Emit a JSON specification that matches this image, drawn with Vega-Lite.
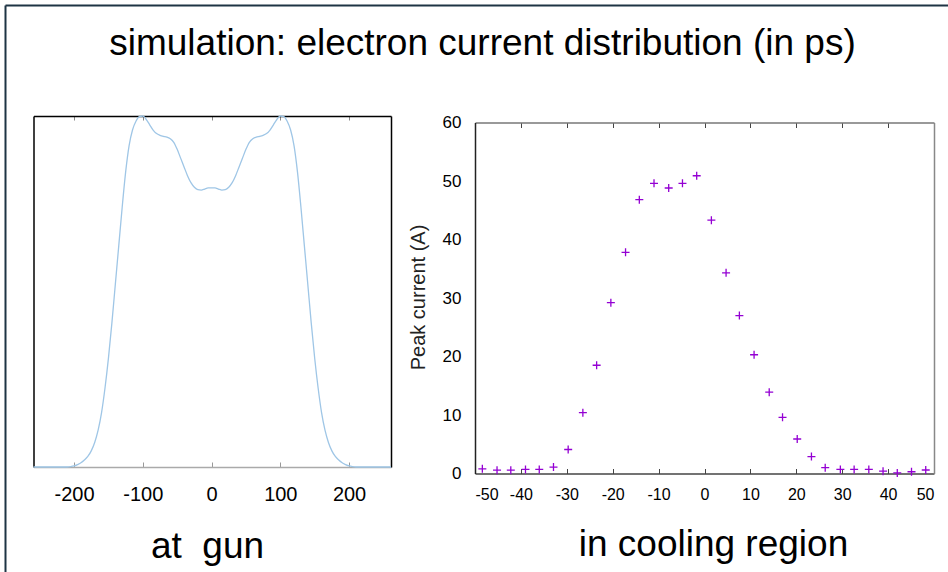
{
  "$schema": "https://vega.github.io/schema/vega-lite/v6.json",
  "width": 943,
  "height": 567,
  "autosize": {"type": "none"},
  "padding": {"left": 5, "top": 5, "right": 0, "bottom": 0},
  "background": "white",
  "title": {
    "text": "simulation: electron current distribution (in ps)",
    "font": "Liberation Sans",
    "fontSize": 37,
    "fontWeight": "normal",
    "color": "#000000",
    "anchor": "middle",
    "frame": "group",
    "baseline": "alphabetic",
    "offset": -50,
    "dx": 6,
    "dy": 37
  },
  "config": {
    "font": "Liberation Sans",
    "view": {"stroke": null},
    "axis": {"grid": false, "labelFont": "Liberation Sans", "titleFont": "Liberation Sans", "titleFontWeight": "normal", "labelColor": "#000000", "titleColor": "#000000"}
  },
  "datasets": {
    "gun": [
      {"t": -259, "I": 0}, {"t": -240, "I": 0}, {"t": -220, "I": 0}, {"t": -210, "I": 0},
      {"t": -205, "I": 0.001}, {"t": -200, "I": 0.003}, {"t": -195, "I": 0.007}, {"t": -190, "I": 0.012},
      {"t": -185, "I": 0.02}, {"t": -180, "I": 0.03}, {"t": -175, "I": 0.046}, {"t": -170, "I": 0.07},
      {"t": -165, "I": 0.105}, {"t": -160, "I": 0.155}, {"t": -155, "I": 0.225}, {"t": -150, "I": 0.31},
      {"t": -145, "I": 0.41}, {"t": -140, "I": 0.52}, {"t": -135, "I": 0.63}, {"t": -130, "I": 0.74},
      {"t": -125, "I": 0.84}, {"t": -120, "I": 0.915}, {"t": -115, "I": 0.96}, {"t": -110, "I": 0.985},
      {"t": -105, "I": 0.998}, {"t": -100, "I": 1.0}, {"t": -95, "I": 0.99}, {"t": -90, "I": 0.975},
      {"t": -85, "I": 0.96}, {"t": -80, "I": 0.95}, {"t": -75, "I": 0.945}, {"t": -70, "I": 0.942},
      {"t": -65, "I": 0.94}, {"t": -60, "I": 0.935}, {"t": -55, "I": 0.925}, {"t": -50, "I": 0.905},
      {"t": -45, "I": 0.88}, {"t": -40, "I": 0.855}, {"t": -35, "I": 0.83}, {"t": -30, "I": 0.81},
      {"t": -25, "I": 0.797}, {"t": -20, "I": 0.79}, {"t": -15, "I": 0.789}, {"t": -10, "I": 0.792},
      {"t": -5, "I": 0.795}, {"t": 0, "I": 0.795},
      {"t": 5, "I": 0.795}, {"t": 10, "I": 0.792}, {"t": 15, "I": 0.789}, {"t": 20, "I": 0.79},
      {"t": 25, "I": 0.797}, {"t": 30, "I": 0.81}, {"t": 35, "I": 0.83}, {"t": 40, "I": 0.855},
      {"t": 45, "I": 0.88}, {"t": 50, "I": 0.905}, {"t": 55, "I": 0.925}, {"t": 60, "I": 0.935},
      {"t": 65, "I": 0.94}, {"t": 70, "I": 0.942}, {"t": 75, "I": 0.945}, {"t": 80, "I": 0.95},
      {"t": 85, "I": 0.96}, {"t": 90, "I": 0.975}, {"t": 95, "I": 0.99}, {"t": 100, "I": 1.0},
      {"t": 105, "I": 0.998}, {"t": 110, "I": 0.985}, {"t": 115, "I": 0.96}, {"t": 120, "I": 0.915},
      {"t": 125, "I": 0.84}, {"t": 130, "I": 0.74}, {"t": 135, "I": 0.63}, {"t": 140, "I": 0.52},
      {"t": 145, "I": 0.41}, {"t": 150, "I": 0.31}, {"t": 155, "I": 0.225}, {"t": 160, "I": 0.155},
      {"t": 165, "I": 0.105}, {"t": 170, "I": 0.07}, {"t": 175, "I": 0.046}, {"t": 180, "I": 0.03},
      {"t": 185, "I": 0.02}, {"t": 190, "I": 0.012}, {"t": 195, "I": 0.007}, {"t": 200, "I": 0.003},
      {"t": 205, "I": 0.001}, {"t": 210, "I": 0}, {"t": 220, "I": 0}, {"t": 240, "I": 0}, {"t": 261, "I": 0}
    ],
    "cool": [
      {"t": -48.4, "I": 0.8}, {"t": -45.2, "I": 0.57}, {"t": -42.2, "I": 0.57}, {"t": -39.0, "I": 0.7},
      {"t": -36.0, "I": 0.7}, {"t": -32.9, "I": 1.1}, {"t": -29.7, "I": 4.1}, {"t": -26.5, "I": 10.4},
      {"t": -23.5, "I": 18.5}, {"t": -20.4, "I": 29.2}, {"t": -17.2, "I": 37.8}, {"t": -14.2, "I": 46.8},
      {"t": -11.0, "I": 49.6}, {"t": -7.8, "I": 48.8}, {"t": -4.8, "I": 49.6}, {"t": -1.7, "I": 50.9},
      {"t": 1.5, "I": 43.3}, {"t": 4.7, "I": 34.3}, {"t": 7.6, "I": 27.0}, {"t": 10.8, "I": 20.3},
      {"t": 14.1, "I": 13.9}, {"t": 17.0, "I": 9.6}, {"t": 20.2, "I": 5.9}, {"t": 23.3, "I": 2.9},
      {"t": 26.3, "I": 1.0}, {"t": 29.6, "I": 0.7}, {"t": 32.6, "I": 0.7}, {"t": 35.8, "I": 0.7},
      {"t": 38.9, "I": 0.4}, {"t": 42.0, "I": 0.1}, {"t": 45.1, "I": 0.3}, {"t": 48.2, "I": 0.6}
    ]
  },
  "layer": [
    {
      "data": {"name": "cool"},
      "mark": {"type": "point", "opacity": 0},
      "encoding": {
        "x": {"field": "t", "type": "quantitative",
          "scale": {"domain": [-60, 60], "nice": false, "zero": false},
          "axis": {"orient": "top", "offset": 0, "domainColor": "#1e3444", "domainWidth": 2,
            "ticks": false, "labels": false, "title": null}},
        "y": {"field": "I", "type": "quantitative",
          "scale": {"domain": [-10, 70], "nice": false, "zero": false},
          "axis": {"orient": "left", "offset": 0, "domainColor": "#1e3444", "domainWidth": 2,
            "ticks": false, "labels": false, "title": null}}
      }
    },
    {
      "data": {"name": "gun"},
      "mark": {"type": "line", "color": "#9fc6e6", "strokeWidth": 1.3, "interpolate": "monotone"},
      "encoding": {
        "x": {"field": "t", "type": "quantitative",
          "scale": {"domain": [-259, 261], "range": [28.5, 386], "nice": false, "zero": false},
          "axis": {"orient": "bottom", "offset": -105, "values": [-200, -100, 0, 100, 200],
            "tickSize": -5, "tickColor": "#999999", "domainColor": "#aaaaaa", "domainWidth": 1.5,
            "labelFontSize": 20, "labelPadding": 32, "labelBaseline": "middle",
            "labelExpr": "replace(datum.label, '\u2212', '-')",
            "title": "at\u00a0 gun", "titleFontSize": 37, "titleX": 202, "titleY": 79, "titleBaseline": "middle"}},
        "y": {"field": "I", "type": "quantitative",
          "scale": {"domain": [0, 1], "range": [462, 111], "nice": false, "zero": false},
          "axis": {"orient": "left", "offset": -28.5, "domainColor": "#000000", "domainWidth": 1.5,
            "ticks": false, "labels": false, "title": null}}
      }
    },
    {
      "data": {"name": "gun"},
      "mark": {"type": "point", "opacity": 0},
      "encoding": {
        "x": {"field": "t", "type": "quantitative",
          "scale": {"domain": [-259, 261], "range": [28.5, 386], "nice": false, "zero": false},
          "axis": {"orient": "top", "offset": -111, "values": [-200, -100, 0, 100, 200],
            "tickSize": -4, "tickColor": "#888888", "domainColor": "#000000", "domainWidth": 1.5,
            "labels": false, "title": null}},
        "y": {"field": "I", "type": "quantitative",
          "scale": {"domain": [0, 1], "range": [462, 111], "nice": false, "zero": false},
          "axis": {"orient": "right", "offset": -557, "domainColor": "#000000", "domainWidth": 1.5,
            "ticks": false, "labels": false, "title": null}}
      }
    },
    {
      "data": {"name": "cool"},
      "mark": {"type": "point", "shape": "M-1,0L1,0M0,-1L0,1", "filled": false, "color": "#9400d3", "strokeWidth": 1.3, "size": 64, "opacity": 1},
      "encoding": {
        "x": {"field": "t", "type": "quantitative",
          "scale": {"domain": [-50, 50], "range": [470, 929], "nice": false, "zero": false},
          "axis": {"orient": "bottom", "offset": -98.5, "values": [-50, -40, -30, -20, -10, 0, 10, 20, 30, 40, 50],
            "tickSize": -5, "tickColor": "#444444", "domainColor": "#444444", "domainWidth": 1.5,
            "labelFontSize": 16, "labelPadding": 26, "labelBaseline": "middle",
            "labelExpr": "replace(datum.label, '\u2212', '-')",
            "title": "in cooling region", "titleFontSize": 37, "titleX": 708, "titleY": 71, "titleBaseline": "middle"}},
        "y": {"field": "I", "type": "quantitative",
          "scale": {"domain": [0, 60], "range": [468.5, 117.5], "nice": false, "zero": false},
          "axis": {"orient": "left", "offset": -470, "values": [0, 10, 20, 30, 40, 50, 60],
            "ticks": false, "domainColor": "#222222", "domainWidth": 1.5,
            "labelFontSize": 17, "labelPadding": 14, "labelBaseline": "middle",
            "title": "Peak current (A)", "titleFontSize": 20, "titleColor": "#222222",
            "titleX": -57, "titleY": 292, "titleBaseline": "middle", "titleAngle": 270}}
      }
    },
    {
      "data": {"name": "cool"},
      "mark": {"type": "point", "opacity": 0},
      "encoding": {
        "x": {"field": "t", "type": "quantitative",
          "scale": {"domain": [-50, 50], "range": [470, 929], "nice": false, "zero": false},
          "axis": {"orient": "top", "offset": -117.5, "values": [-50, -40, -30, -20, -10, 0, 10, 20, 30, 40, 50],
            "tickSize": -5, "tickColor": "#444444", "domainColor": "#777777", "domainWidth": 1.5,
            "labels": false, "title": null}},
        "y": {"field": "I", "type": "quantitative",
          "scale": {"domain": [0, 60], "range": [468.5, 117.5], "nice": false, "zero": false},
          "axis": {"orient": "right", "offset": -14, "domainColor": "#888888", "domainWidth": 1.5,
            "ticks": false, "labels": false, "title": null}}
      }
    }
  ],
  "resolve": {
    "scale": {"x": "independent", "y": "independent"},
    "axis": {"x": "independent", "y": "independent"}
  }
}
